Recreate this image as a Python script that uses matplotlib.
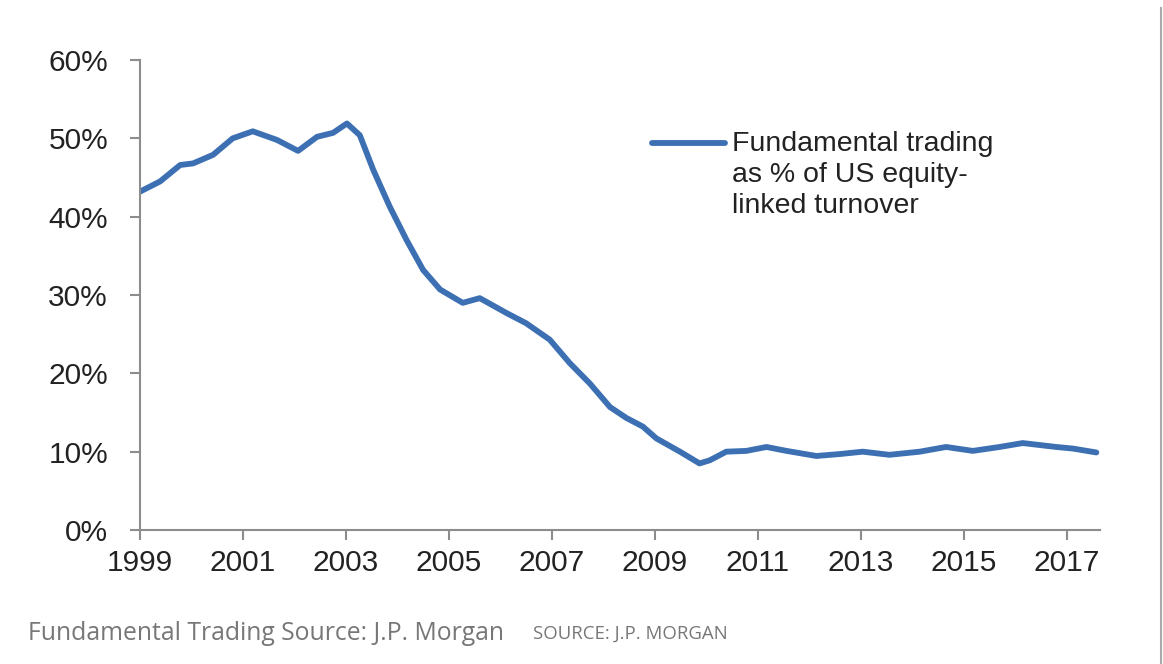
import matplotlib
matplotlib.use("Agg")
import matplotlib.pyplot as plt
import matplotlib.ticker as ticker
from matplotlib.lines import Line2D

# fundamental trading as % of US equity-linked turnover
years = [1999.0, 1999.39, 1999.78, 2000.03, 2000.42, 2000.8, 2001.19, 2001.66,
         2002.07, 2002.44, 2002.75, 2003.02, 2003.27, 2003.53, 2003.85, 2004.18,
         2004.5, 2004.83, 2005.27, 2005.6, 2006.12, 2006.5, 2006.96, 2007.35,
         2007.74, 2008.13, 2008.45, 2008.77, 2009.03, 2009.49, 2009.87, 2010.07,
         2010.39, 2010.78, 2011.17, 2011.56, 2012.14, 2012.6, 2013.04, 2013.56,
         2014.15, 2014.66, 2015.18, 2015.7, 2016.15, 2016.8, 2017.12, 2017.58]
share = [43.2, 44.5, 46.6, 46.8, 47.9, 50.0, 50.9, 49.8,
         48.4, 50.2, 50.7, 51.9, 50.4, 46.0, 41.3, 37.0,
         33.2, 30.7, 29.0, 29.6, 27.7, 26.4, 24.3, 21.3,
         18.7, 15.7, 14.3, 13.2, 11.7, 10.0, 8.5, 8.9,
         10.0, 10.1, 10.6, 10.1, 9.45, 9.7, 10.0, 9.6,
         10.0, 10.6, 10.1, 10.6, 11.1, 10.6, 10.4, 9.9]

year_ticks = list(range(1999, 2018, 2))
pct_ticks = [0, 10, 20, 30, 40, 50, 60]
label = "Fundamental trading\nas % of US equity-\nlinked turnover"

LINE_COLOR = '#3d70b3'

plt.rcParams['font.family'] = ['Liberation Sans', 'DejaVu Sans']

fig = plt.figure(figsize=(11.63, 6.64), dpi=100)
ax = fig.add_axes([0.1204, 0.2018, 0.8254, 0.7078])

ax.plot(years, share, color=LINE_COLOR, lw=4.2, solid_joinstyle='round',
        solid_capstyle='round')

ax.set_xlim(1999, 2017.65)
ax.set_ylim(0, 60)
ax.set_xticks(year_ticks)
ax.set_yticks(pct_ticks)
ax.yaxis.set_major_formatter(ticker.FuncFormatter(lambda v, p: '%d%%' % v))

for s in ['top', 'right']:
    ax.spines[s].set_visible(False)
for s in ['left', 'bottom']:
    ax.spines[s].set_color('#8c8c8c')
    ax.spines[s].set_linewidth(1.5)

ax.tick_params(axis='both', direction='out', length=7, width=1.5,
               color='#8c8c8c', labelcolor='#222222')
ax.tick_params(axis='y', labelsize=21.5, pad=16)
ax.tick_params(axis='x', labelsize=21.5, pad=7)

# legend drawn by hand so the key sits on the first text line
ax.add_line(Line2D([0.533, 0.609], [0.823, 0.823], transform=ax.transAxes,
                   color=LINE_COLOR, lw=4.2, solid_capstyle='round'))
ax.text(0.617, 0.848, label, transform=ax.transAxes, ha='left', va='top',
        fontsize=20.5, color='#222222', linespacing=1.25)

# caption under the chart
fig.text(28 / 1163, 1 - 633 / 664, "Fundamental Trading Source: J.P. Morgan",
         family='Open Sans', fontsize=17.8, color='#777777', va='center')
fig.text(533 / 1163, 1 - 634 / 664, "SOURCE: J.P. MORGAN",
         family='Open Sans', fontsize=13.4, color='#777777', va='center')

# thin page border on the right
fig.add_artist(Line2D([1161 / 1163, 1161 / 1163], [0, 1 - 8 / 664],
                      transform=fig.transFigure, color='#aaaaaa', lw=1.5))

fig.savefig('out.png', dpi=100)
